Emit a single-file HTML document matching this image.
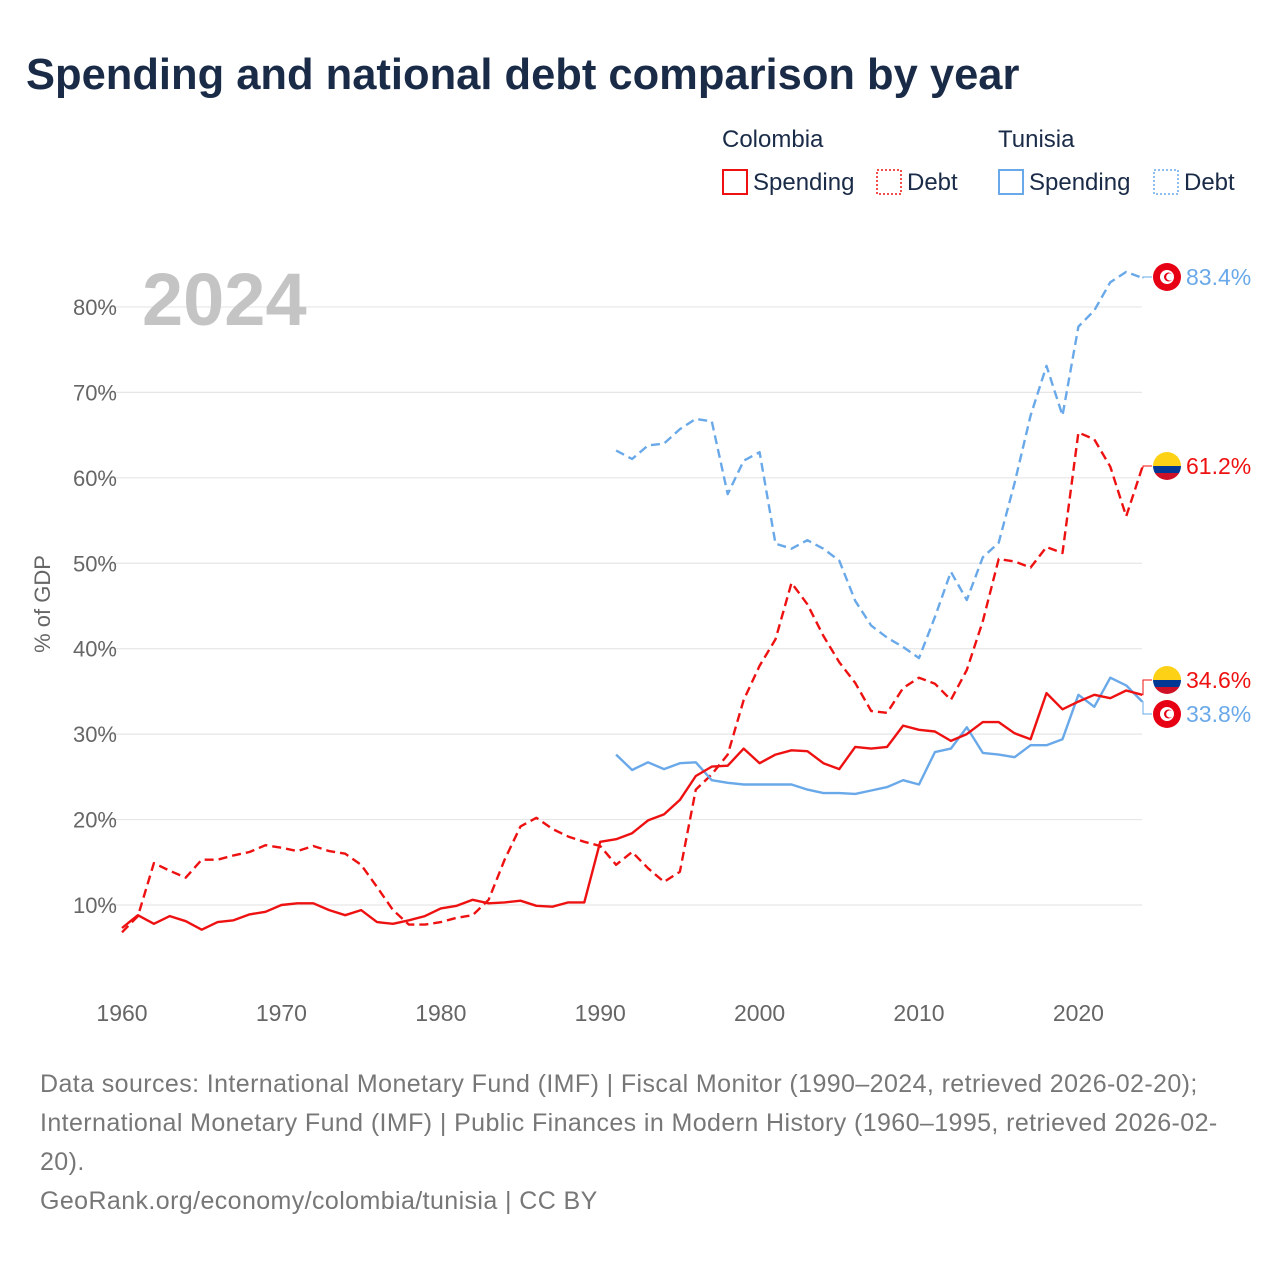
<!DOCTYPE html>
<html><head><meta charset="utf-8"><style>
body{margin:0;background:#fff;font-family:"Liberation Sans",sans-serif;}
#wrap{position:relative;width:1280px;height:1280px;overflow:hidden;}
.t{position:absolute;white-space:nowrap;}
</style></head><body>
<div id="wrap">
<div class="t" style="left:26px;top:51px;font-size:43.5px;font-weight:bold;color:#1a2b48;">Spending and national debt comparison by year</div>
<div class="t" style="left:40px;top:1065px;font-size:25px;line-height:39px;color:#777;letter-spacing:0.4px;">Data sources: International Monetary Fund (IMF) | Fiscal Monitor (1990–2024, retrieved 2026-02-20);<br>International Monetary Fund (IMF) | Public Finances in Modern History (1960–1995, retrieved 2026-02-<br>20).<br>GeoRank.org/economy/colombia/tunisia | CC BY</div>
<svg id="chart" width="1280" height="1280" style="position:absolute;left:0;top:0"></svg>
</div>
<script>
const years=[];for(let y=1960;y<=2024;y++)years.push(y);
const colSpend=[7.3,8.8,7.8,8.7,8.1,7.1,8.0,8.2,8.9,9.2,10.0,10.2,10.2,9.4,8.8,9.4,8.0,7.8,8.2,8.7,9.6,9.9,10.6,10.2,10.3,10.5,9.9,9.8,10.3,10.3,17.4,17.7,18.4,19.9,20.6,22.3,25.1,26.2,26.3,28.3,26.6,27.6,28.1,28.0,26.6,25.9,28.5,28.3,28.5,31.0,30.5,30.3,29.2,30.0,31.4,31.4,30.1,29.4,34.8,32.9,33.8,34.6,34.2,35.1,34.6];
const colDebt=[6.8,8.7,14.9,14.0,13.2,15.3,15.3,15.8,16.2,17.0,16.7,16.3,16.9,16.3,16.0,14.7,12.1,9.4,7.7,7.7,8.0,8.5,8.8,10.6,15.3,19.2,20.2,18.9,18.0,17.4,16.9,14.7,16.2,14.3,12.7,13.9,23.5,25.3,27.6,34.0,38.0,41.1,47.7,45.2,41.5,38.4,36.0,32.7,32.5,35.4,36.6,35.9,34.0,37.5,43.2,50.5,50.2,49.5,51.9,51.2,65.3,64.5,61.3,55.5,61.2];
const tunYears=[];for(let y=1991;y<=2024;y++)tunYears.push(y);
const tunSpend=[27.6,25.8,26.7,25.9,26.6,26.7,24.6,24.3,24.1,24.1,24.1,24.1,23.5,23.1,23.1,23.0,23.4,23.8,24.6,24.1,27.9,28.3,30.8,27.8,27.6,27.3,28.7,28.7,29.4,34.6,33.2,36.6,35.7,33.8];
const tunDebt=[63.2,62.2,63.8,64.0,65.7,66.9,66.6,58.1,62.0,63.0,52.3,51.7,52.7,51.7,50.3,45.6,42.7,41.3,40.2,38.9,43.7,49.0,45.7,50.7,52.4,59.4,67.3,73.1,67.3,77.7,79.6,82.9,84.1,83.4];
const yTicks=[10,20,30,40,50,60,70,80];
const xTicks=[1960,1970,1980,1990,2000,2010,2020];
const RED="#ee1111",BLUE="#6aa9e9";
const xS=y=>122+(y-1960)*15.94;
const yS=v=>990.4-v*8.543;
const svg=document.getElementById('chart');
const NS="http://www.w3.org/2000/svg";
function mk(tag,attrs,parent){const e=document.createElementNS(NS,tag);for(const k in attrs)e.setAttribute(k,attrs[k]);(parent||svg).appendChild(e);return e;}
yTicks.forEach(v=>{
  const g=mk('line',{x1:100,x2:1142,y1:yS(v),y2:yS(v),stroke:'#e6e6e6','stroke-width':1.2});
  
  
  const t=mk('text',{x:117,y:yS(v)+8,'text-anchor':'end','font-size':22,fill:'#666','font-family':'Liberation Sans'});
  t.textContent=v+'%';
  
  
});
xTicks.forEach(y=>{
  const t=mk('text',{x:xS(y),y:1021,'text-anchor':'middle','font-size':23,fill:'#666','font-family':'Liberation Sans'});
  t.textContent=y;
  
  
});
const yt=mk('text',{x:0,y:0,transform:'translate(50,604) rotate(-90)','text-anchor':'middle','font-size':22,fill:'#666','font-family':'Liberation Sans'});
yt.textContent='% of GDP';


const yr=mk('text',{x:142,y:325,'font-size':74,'font-weight':'bold',fill:'#c4c4c4','font-family':'Liberation Sans'});
yr.textContent='2024';


function line(xs,vals,color,dash,name){
  const d=vals.map((v,i)=>(i?'L':'M')+xS(xs[i]).toFixed(1)+' '+yS(v).toFixed(1)).join(' ');
  const p=mk('path',{d:d,fill:'none',stroke:color,'stroke-width':2.4,'stroke-dasharray':dash?'9 5':'none','stroke-linejoin':'round'});
  
  
}
line(years,colDebt,RED,true,'colombia-debt-line');
line(tunYears,tunDebt,BLUE,true,'tunisia-debt-line');
line(tunYears,tunSpend,BLUE,false,'tunisia-spending-line');
line(years,colSpend,RED,false,'colombia-spending-line');
function flag(cx,cy,country){
  const g=mk('g',{});
  
  
  if(country==='tunisia'){
    mk('circle',{cx:cx,cy:cy,r:14,fill:'#e70013'},g);
    mk('circle',{cx:cx,cy:cy,r:7,fill:'#fff'},g);
    mk('circle',{cx:cx+1.5,cy:cy,r:4.5,fill:'#e70013'},g);
    mk('circle',{cx:cx+2.8,cy:cy,r:3.6,fill:'#fff'},g);
  }else{
    const id='c'+Math.round(cy);
    const cp=mk('clipPath',{id:id},g);mk('circle',{cx:cx,cy:cy,r:14},cp);
    mk('rect',{x:cx-14,y:cy-14,width:28,height:14,fill:'#fcd116','clip-path':'url(#'+id+')'},g);
    mk('rect',{x:cx-14,y:cy,width:28,height:7,fill:'#003893','clip-path':'url(#'+id+')'},g);
    mk('rect',{x:cx-14,y:cy+7,width:28,height:7,fill:'#ce1126','clip-path':'url(#'+id+')'},g);
  }
}
function endLabel(val,ly,color,country,name){
  const lx=xS(2024);
  mk('path',{d:`M${lx} ${yS(val)} H1143 V${ly} H1152`,fill:'none',stroke:color,'stroke-width':1});
  flag(1167,ly,country);
  const t=mk('text',{x:1186,y:ly+8,'font-size':23,fill:color,'font-family':'Liberation Sans'});
  t.textContent=val.toFixed(1)+'%';
  
  
}
endLabel(tunDebt[tunDebt.length-1],277,BLUE,'tunisia','tunisia-debt-end-label');
endLabel(colDebt[colDebt.length-1],466,RED,'colombia','colombia-debt-end-label');
endLabel(colSpend[colSpend.length-1],680,RED,'colombia','colombia-spending-end-label');
endLabel(tunSpend[tunSpend.length-1],714,BLUE,'tunisia','tunisia-spending-end-label');
function lt(x,y,s,c,name,sz){const t=mk('text',{x:x,y:y,'font-size':sz||24,fill:c,'font-family':'Liberation Sans'});t.textContent=s;}
lt(722,147,'Colombia','#1a2b48','legend-colombia-title');
lt(998,147,'Tunisia','#1a2b48','legend-tunisia-title');
function box(x,c,dash,name){const r=mk('rect',{x:x,y:170,width:24,height:24,fill:'none',stroke:c,'stroke-width':dash?1.5:2,'stroke-dasharray':dash?'2 2':'none'});}
box(723,RED,false,'legend-colombia-spending-swatch');lt(753,190,'Spending','#1a2b48','legend-colombia-spending');
box(877,RED,true,'legend-colombia-debt-swatch');lt(907,190,'Debt','#1a2b48','legend-colombia-debt');
box(999,BLUE,false,'legend-tunisia-spending-swatch');lt(1029,190,'Spending','#1a2b48','legend-tunisia-spending');
box(1154,BLUE,true,'legend-tunisia-debt-swatch');lt(1184,190,'Debt','#1a2b48','legend-tunisia-debt');
</script>
</body></html>
